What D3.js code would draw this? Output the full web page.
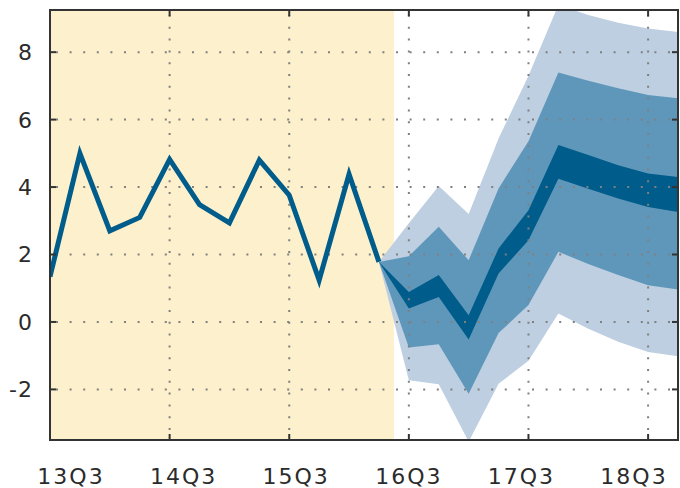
<!DOCTYPE html>
<html>
<head>
<meta charset="utf-8">
<script src="https://cdn.jsdelivr.net/npm/d3@7"></script>
<style>
  body { margin: 0; background: #fff; }
  text { font-family: "DejaVu Sans", sans-serif; fill: #2b2b2b; }
</style>
</head>
<body>
<div id="chart"></div>
<script>
const quarters = ["13Q3","13Q4","14Q1","14Q2","14Q3","14Q4","15Q1","15Q2","15Q3","15Q4",
  "16Q1","16Q2","16Q3","16Q4","17Q1","17Q2","17Q3","17Q4","18Q1","18Q2","18Q3","18Q4"];
const tickQuarters = ["13Q3","14Q3","15Q3","16Q3","17Q3","18Q3"];
const yTicks = [-2, 0, 2, 4, 6, 8];

// history, 13Q3 .. 16Q2
const actual = [1.34, 5.0, 2.7, 3.1, 4.82, 3.48, 2.94, 4.8, 3.76, 1.24, 4.38, 1.78];

// fan bands, 16Q2 .. 18Q4
const fanStart = 11;
const lightHi = [1.78, 2.93, 4.03, 3.2, 5.44, 7.3, 9.4, 9.1, 8.87, 8.7, 8.6];
const midHi   = [1.78, 1.95, 2.82, 1.83, 3.96, 5.36, 7.4, 7.15, 6.93, 6.73, 6.63];
const darkHi  = [1.78, 0.89, 1.39, 0.2, 2.18, 3.31, 5.25, 4.95, 4.65, 4.4, 4.3];
const darkLo  = [1.78, 0.4, 0.74, -0.52, 1.44, 2.42, 4.25, 3.95, 3.66, 3.41, 3.26];
const midLo   = [1.78, -0.76, -0.66, -2.13, -0.33, 0.5, 2.08, 1.72, 1.39, 1.09, 0.96];
const lightLo = [1.78, -1.73, -1.85, -3.55, -1.83, -1.15, 0.25, -0.2, -0.59, -0.89, -1.02];

const width = 680, height = 488;
const margin = {top: 10, right: 2, bottom: 48, left: 50};

const svg = d3.select("#chart").append("svg")
  .attr("width", width)
  .attr("height", height);

const x = d3.scaleLinear()
  .domain([0, quarters.length - 1])
  .range([margin.left, width - margin.right]);

const y = d3.scaleLinear()
  .domain([-3.5, 9.25])
  .range([height - margin.bottom, margin.top]);

// the labels sit on their own even spacing, not on the grid
const xl = d3.scalePoint()
  .domain(tickQuarters)
  .range([71, 634]);

const x0 = x.range()[0], x1 = x.range()[1];
const y0 = y.range()[0], y1 = y.range()[1];

svg.append("clipPath").attr("id", "plot")
  .append("rect")
  .attr("x", x0).attr("y", y1)
  .attr("width", x1 - x0).attr("height", y0 - y1);

const plot = svg.append("g").attr("clip-path", "url(#plot)");

// shaded history
plot.append("rect")
  .attr("x", x0)
  .attr("y", y1)
  .attr("width", x(fanStart + 0.5) - x0)
  .attr("height", y0 - y1)
  .attr("fill", "#fdf0cc");

function band(lo, hi, color) {
  const rows = lo.map((d, i) => ({i: i + fanStart, lo: d, hi: hi[i]}));
  plot.append("path")
    .datum(rows)
    .attr("fill", color)
    .attr("d", d3.area()
      .x(d => x(d.i))
      .y0(d => y(d.lo))
      .y1(d => y(d.hi)));
}
band(lightLo, lightHi, "#bdcfe1");
band(midLo, midHi, "#5f97ba");
band(darkLo, darkHi, "#005c8a");

// dotted grid
const grid = plot.append("g")
  .attr("stroke", "#808080")
  .attr("stroke-width", 2);
grid.selectAll("line.h")
  .data(yTicks)
  .join("line")
  .attr("class", "h")
  .attr("x1", x0).attr("x2", x1)
  .attr("y1", d => y(d)).attr("y2", d => y(d))
  .attr("stroke-dasharray", "2 11.6")
  .attr("stroke-dashoffset", -6);
grid.selectAll("line.v")
  .data(tickQuarters.slice(1))
  .join("line")
  .attr("class", "v")
  .attr("x1", d => x(quarters.indexOf(d))).attr("x2", d => x(quarters.indexOf(d)))
  .attr("y1", y1).attr("y2", y0)
  .attr("stroke-dasharray", "2 9.8")
  .attr("stroke-dashoffset", -5);

// history line
plot.append("path")
  .datum(actual)
  .attr("fill", "none")
  .attr("stroke", "#005c8a")
  .attr("stroke-width", 5)
  .attr("stroke-linejoin", "miter")
  .attr("d", d3.line().x((d, i) => x(i)).y(d => y(d)));

// frame and inward ticks
svg.append("rect")
  .attr("x", x0).attr("y", y1)
  .attr("width", x1 - x0).attr("height", y0 - y1)
  .attr("fill", "none")
  .attr("stroke", "#333")
  .attr("stroke-width", 2);

const tickLen = 6;
const ticks = svg.append("g").attr("stroke", "#333").attr("stroke-width", 2);
yTicks.forEach(v => {
  ticks.append("line").attr("x1", x0).attr("x2", x0 + tickLen).attr("y1", y(v)).attr("y2", y(v));
  ticks.append("line").attr("x1", x1 - tickLen).attr("x2", x1).attr("y1", y(v)).attr("y2", y(v));
});
tickQuarters.forEach(q => {
  const px = x(quarters.indexOf(q));
  ticks.append("line").attr("x1", px).attr("x2", px).attr("y1", y1).attr("y2", y1 + tickLen);
  ticks.append("line").attr("x1", px).attr("x2", px).attr("y1", y0 - tickLen).attr("y2", y0);
});

// labels
svg.append("g")
  .selectAll("text")
  .data(yTicks)
  .join("text")
  .attr("x", 33)
  .attr("y", d => y(d))
  .attr("dy", "0.36em")
  .attr("text-anchor", "end")
  .attr("font-size", 22)
  .attr("letter-spacing", 1)
  .text(d => d);

svg.append("g")
  .selectAll("text")
  .data(tickQuarters)
  .join("text")
  .attr("x", d => xl(d))
  .attr("y", 484)
  .attr("text-anchor", "middle")
  .attr("font-size", 22)
  .attr("letter-spacing", 2)
  .text(d => d);
</script>
</body>
</html>
